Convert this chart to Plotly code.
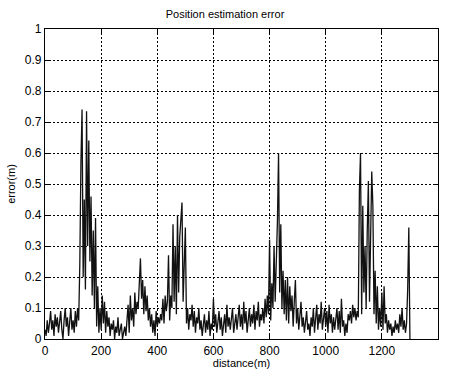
import numpy as np
import plotly.graph_objects as go

step_m = 4
err_0 = [0.03,0.01,0.06,0.02,0.05,0.09,0.03,0.06,0.01,0.08,0.04,0.07,0.02,0.05,0.09,0.03,0.00,0.06,0.10,0.04,0.07,0.01,0.05,0.10,0.03]
err_100 = [0.06,0.02,0.09,0.04,0.10,0.06,0.24,0.57,0.74,0.20,0.45,0.16,0.735,0.30,0.64,0.25,0.46,0.14,0.35,0.10,0.39,0.04,0.17,0.02,0.10]
err_200 = [0.03,0.14,0.05,0.12,0.02,0.09,0.04,0.07,0.01,0.05,0.03,0.06,0.00,0.04,0.02,0.07,0.01,0.03,0.05,0.00,0.02,0.04,0.01,0.05,0.11]
err_300 = [0.02,0.14,0.06,0.10,0.04,0.15,0.08,0.12,0.10,0.22,0.26,0.13,0.19,0.08,0.17,0.09,0.14,0.06,0.10,0.04,0.08,0.02,0.06,0.01,0.09]
err_400 = [0.04,0.07,0.05,0.08,0.06,0.13,0.05,0.14,0.09,0.12,0.27,0.06,0.14,0.10,0.37,0.12,0.30,0.08,0.40,0.15,0.33,0.40,0.44,0.12,0.25]
err_500 = [0.36,0.05,0.10,0.03,0.08,0.06,0.11,0.04,0.09,0.02,0.07,0.05,0.10,0.03,0.06,0.01,0.05,0.08,0.02,0.06,0.03,0.09,0.01,0.05,0.03]
err_600 = [0.13,0.04,0.08,0.02,0.06,0.09,0.03,0.07,0.01,0.05,0.08,0.02,0.11,0.04,0.07,0.03,0.06,0.10,0.02,0.05,0.08,0.03,0.06,0.11,0.04]
err_700 = [0.08,0.03,0.12,0.05,0.09,0.02,0.07,0.10,0.04,0.08,0.05,0.11,0.03,0.09,0.06,0.12,0.04,0.08,0.06,0.10,0.05,0.13,0.07,0.14,0.08]
err_800 = [0.32,0.06,0.18,0.10,0.30,0.12,0.25,0.38,0.60,0.15,0.37,0.10,0.22,0.08,0.19,0.06,0.20,0.05,0.17,0.09,0.14,0.04,0.12,0.19,0.05]
err_900 = [0.10,0.03,0.08,0.12,0.04,0.07,0.02,0.06,0.09,0.03,0.05,0.01,0.07,0.04,0.10,0.02,0.06,0.11,0.03,0.08,0.05,0.12,0.03,0.07,0.10]
err_1000 = [0.04,0.09,0.02,0.11,0.05,0.08,0.02,0.07,0.03,0.06,0.10,0.03,0.09,0.02,0.13,0.04,0.06,0.01,0.05,0.02,0.08,0.06,0.09,0.05,0.11]
err_1100 = [0.07,0.10,0.06,0.09,0.07,0.48,0.60,0.08,0.43,0.15,0.30,0.10,0.35,0.51,0.12,0.38,0.54,0.43,0.08,0.22,0.05,0.17,0.03,0.10,0.04]
err_1200 = [0.15,0.03,0.17,0.05,0.08,0.02,0.06,0.03,0.05,0.01,0.04,0.02,0.06,0.03,0.05,0.02,0.08,0.04,0.10,0.03,0.06,0.02,0.05,0.16,0.36,0.00]

error = (err_0 + err_100 + err_200 + err_300 + err_400 + err_500 + err_600 +
         err_700 + err_800 + err_900 + err_1000 + err_1100 + err_1200)
distance = [i * step_m for i in range(len(error))]

x_ticks = [0, 200, 400, 600, 800, 1000, 1200, 1400]
y_ticks = [0, 0.1, 0.2, 0.3, 0.4, 0.5, 0.6, 0.7, 0.8, 0.9, 1]
y_tick_labels = ["0", "0.1", "0.2", "0.3", "0.4", "0.5", "0.6", "0.7", "0.8", "0.9", "1"]

fig = go.Figure()
fig.add_trace(go.Scatter(x=distance, y=error, mode="lines",
                         line=dict(color="#111111", width=1.3), showlegend=False))

font = "Liberation Sans, Arial, sans-serif"
axis_common = dict(showline=True, linecolor="black", linewidth=1.2, mirror="ticks",
                   ticks="inside", ticklen=4, tickcolor="black",
                   showgrid=True, gridcolor="black", gridwidth=1, griddash="2px,2px",
                   zeroline=False, tickfont=dict(family=font, size=12, color="black"))

fig.update_layout(
    width=450, height=378,
    margin=dict(l=45, r=11, t=29, b=36),
    paper_bgcolor="white", plot_bgcolor="white",
    title=dict(text="Position estimation error", x=0.5, xanchor="center",
               y=1 - 14 / 378, yanchor="middle",
               font=dict(family=font, size=11, color="black")),
    xaxis=dict(range=[0, 1400], tickvals=x_ticks,
               title=dict(text="distance(m)", standoff=2,
                          font=dict(family=font, size=11, color="black")),
               **axis_common),
    yaxis=dict(range=[0, 1], tickvals=y_ticks, ticktext=y_tick_labels,
               title=dict(text="error(m)", standoff=6,
                          font=dict(family=font, size=11, color="black")),
               **axis_common),
)

fig.write_html("out.html")
